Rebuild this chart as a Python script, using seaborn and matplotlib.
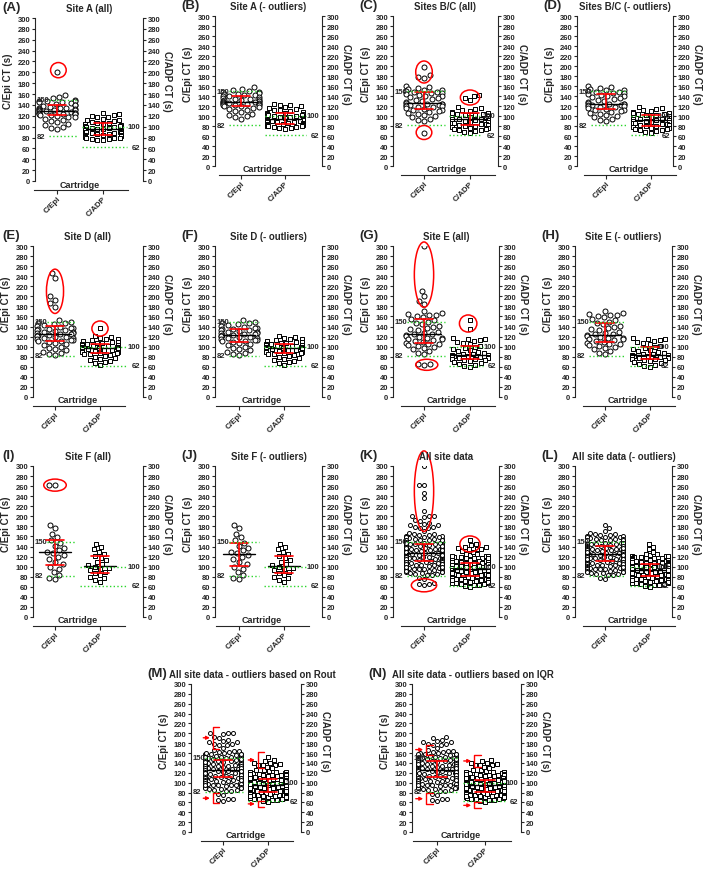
import warnings

import numpy as np
import pandas as pd
import matplotlib
matplotlib.use("Agg")
import matplotlib.pyplot as plt
from matplotlib.patches import Ellipse
import seaborn as sns

warnings.filterwarnings("ignore")

FIG_W, FIG_H = 709, 870
CARTRIDGES = ["C/Epi", "C/ADP"]
EPI_REF = [150, 82]
ADP_REF = [100, 62]
Y_TICKS = list(range(0, 301, 20))

# closure times (s)
site_a_epi = [200, 158, 155, 152, 150, 148, 148, 147, 145, 145, 143, 142, 140, 140, 138, 137,
              135, 135, 134, 133, 132, 131, 130, 130, 129, 128, 127, 126, 126, 125, 125, 124,
              123, 123, 122, 121, 120, 118, 117, 115, 113, 110, 108, 105, 103, 100, 98, 95]
site_a_adp = [125, 123, 122, 120, 118, 117, 115, 113, 112, 110, 108, 107, 106, 105, 104, 103,
              102, 101, 100, 99, 98, 97, 96, 95, 95, 94, 93, 92, 91, 90, 90, 89, 88, 88, 87,
              86, 85, 85, 84, 83, 82, 81, 80, 80, 79, 78, 77, 76, 75]
site_c_epi = [198, 182, 179, 177, 160, 158, 156, 155, 153, 152, 150, 149, 148, 147, 146, 145,
              143, 141, 140, 138, 136, 134, 132, 130, 128, 126, 125, 124, 124, 123, 122, 122,
              121, 120, 119, 118, 116, 115, 113, 112, 110, 108, 106, 104, 102, 100, 98, 95,
              92, 90, 67]
site_c_adp = [143, 140, 136, 132, 118, 116, 114, 112, 110, 108, 107, 106, 105, 104, 103, 102,
              100, 99, 98, 97, 96, 95, 95, 94, 93, 92, 91, 90, 89, 88, 87, 86, 85, 84, 83, 82,
              81, 80, 78, 77, 76, 75, 74, 73, 72, 70, 68, 66]
site_d_epi = [246, 236, 200, 193, 186, 178, 152, 150, 148, 147, 145, 143, 141, 140, 138, 137,
              136, 135, 134, 133, 132, 130, 129, 128, 127, 126, 125, 124, 123, 122, 121, 120,
              119, 118, 117, 116, 114, 113, 112, 111, 110, 108, 106, 104, 100, 98, 95, 93, 90,
              87, 85, 83]
site_d_adp = [138, 122, 120, 118, 116, 115, 113, 112, 110, 109, 108, 107, 106, 105, 104, 103,
              102, 101, 100, 100, 99, 99, 98, 98, 97, 97, 96, 96, 95, 95, 94, 93, 92, 91, 90,
              89, 88, 87, 86, 85, 84, 82, 80, 78, 76, 74, 72, 70, 67, 64]
site_e_epi = [300, 211, 200, 191, 184, 170, 167, 165, 163, 162, 160, 158, 155, 152, 150, 147,
              145, 142, 140, 138, 135, 133, 130, 128, 126, 125, 123, 122, 120, 118, 117, 116,
              115, 114, 112, 110, 108, 106, 105, 103, 102, 100, 98, 95, 92, 88, 85, 66, 65, 63]
site_e_adp = [152, 136, 118, 116, 115, 113, 112, 110, 108, 105, 102, 100, 98, 96, 94, 92, 90,
              88, 86, 85, 84, 83, 82, 82, 81, 80, 80, 79, 78, 78, 77, 76, 75, 74, 73, 72, 70,
              68, 66, 64, 62, 60]
site_f_epi = [262, 262, 182, 176, 165, 158, 152, 148, 142, 138, 133, 130, 127, 124, 120, 115,
              110, 105, 100, 96, 90, 84, 78, 75]
site_f_adp = [145, 140, 135, 130, 126, 122, 118, 114, 110, 106, 103, 100, 98, 96, 93, 90, 87,
              84, 80, 77, 73, 70]

# circled outliers per site
site_a_epi_out = [200]
site_a_adp_out = []
site_c_epi_out = [198, 182, 179, 177, 67]
site_c_adp_out = [143, 140, 136, 132]
site_d_epi_out = [246, 236, 200, 193, 186, 178]
site_d_adp_out = [138]
site_e_epi_out = [300, 211, 200, 191, 184, 66, 65, 63]
site_e_adp_out = [152, 136]
site_f_epi_out = [262, 262]
site_f_adp_out = []

# upper limits kept by the Rout / IQR outlier rules
ROUT_EPI_MAX = 205
IQR_EPI_MAX = 195
IQR_ADP_MAX = 148


def without(values, removed):
    rest = list(values)
    for v in removed:
        rest.remove(v)
    return rest


a_epi_c, a_adp_c = without(site_a_epi, site_a_epi_out), without(site_a_adp, site_a_adp_out)
c_epi_c, c_adp_c = without(site_c_epi, site_c_epi_out), without(site_c_adp, site_c_adp_out)
d_epi_c, d_adp_c = without(site_d_epi, site_d_epi_out), without(site_d_adp, site_d_adp_out)
e_epi_c, e_adp_c = without(site_e_epi, site_e_epi_out), without(site_e_adp, site_e_adp_out)
f_epi_c, f_adp_c = without(site_f_epi, site_f_epi_out), without(site_f_adp, site_f_adp_out)

all_epi = site_a_epi + site_c_epi + site_d_epi + site_e_epi + site_f_epi
all_adp = site_a_adp + site_c_adp + site_d_adp + site_e_adp + site_f_adp
clean_epi = a_epi_c + c_epi_c + d_epi_c + e_epi_c + f_epi_c
clean_adp = a_adp_c + c_adp_c + d_adp_c + e_adp_c + f_adp_c
rout_epi = [v for v in all_epi if v <= ROUT_EPI_MAX]
rout_adp = list(all_adp)
iqr_epi = [v for v in all_epi if v <= IQR_EPI_MAX]
iqr_adp = [v for v in all_adp if v <= IQR_ADP_MAX]

sns.set_style("ticks")
plt.rcParams["font.family"] = ["Liberation Sans", "DejaVu Sans"]
plt.rcParams["font.weight"] = "bold"
plt.rcParams["axes.labelweight"] = "bold"

COL = [(35, 57, 103, 143), (215, 241, 285, 322), (393, 424, 470, 498), (577, 606, 651, 673)]
COL_LOW = [(33, 55, 100, 143), (215, 239, 284, 322), (393, 424, 470, 499), (575, 605, 650, 672)]
ROWS = [(17, 167), (247, 398), (467, 618), (685, 833)]

# letter, title, epi, adp, geometry, rows, ellipses (cat, dx, y, w, h), brackets (cat, lo, hi)
panels = [
    ("(A)", "Site A (all)", site_a_epi, site_a_adp, COL[0], (19, 182),
     [(0, 0.03, 204, 0.34, 28)], []),
    ("(B)", "Site A (- outliers)", a_epi_c, a_adp_c, COL[1], ROWS[0], [], []),
    ("(C)", "Sites B/C (all)", site_c_epi, site_c_adp, COL[2], ROWS[0],
     [(0, 0, 188, 0.36, 44), (0, 0, 67, 0.34, 28), (1, 0, 137, 0.42, 30)], []),
    ("(D)", "Sites B/C (- outliers)", c_epi_c, c_adp_c, COL[3], ROWS[0], [], []),
    ("(E)", "Site D (all)", site_d_epi, site_d_adp, COL_LOW[0], ROWS[1],
     [(0, 0, 210, 0.38, 88), (1, 0, 136, 0.36, 30)], []),
    ("(F)", "Site D (- outliers)", d_epi_c, d_adp_c, COL_LOW[1], ROWS[1], [], []),
    ("(G)", "Site E (all)", site_e_epi, site_e_adp, COL_LOW[2], ROWS[1],
     [(0, 0, 243, 0.42, 130), (0, 0.06, 64, 0.48, 22), (1, -0.04, 146, 0.38, 34)], []),
    ("(H)", "Site E (- outliers)", e_epi_c, e_adp_c, COL_LOW[3], ROWS[1], [], []),
    ("(I)", "Site F (all)", site_f_epi, site_f_adp, COL_LOW[0], ROWS[2],
     [(0, 0, 262, 0.5, 24)], []),
    ("(J)", "Site F (- outliers)", f_epi_c, f_adp_c, COL_LOW[1], ROWS[2], [], []),
    ("(K)", "All site data", all_epi, all_adp, COL_LOW[2], ROWS[2],
     [(0, 0, 250, 0.42, 160), (0, 0, 63, 0.55, 26), (1, 0, 145, 0.44, 32)], []),
    ("(L)", "All site data (- outliers)", clean_epi, clean_adp, COL_LOW[3], ROWS[2], [], []),
    ("(M)", "All site data - outliers based on Rout", rout_epi, rout_adp, (191, 223, 268, 301),
     ROWS[3], [], [(0, 169, 213), (0, 58, 79), (1, 130, 162), (1, 51, 63)]),
    ("(N)", "All site data - outliers based on IQR", iqr_epi, iqr_adp, (412, 437, 485, 521),
     ROWS[3], [], [(0, 157, 177), (0, 56, 79), (1, 132, 156), (1, 48, 60)]),
]


def draw_panel(fig, letter, title, epi, adp, geo, rows, ellipses, brackets):
    L, c0, c1, R = geo
    top, bottom = rows
    w_px, h_px = R - L, bottom - top
    ax = fig.add_axes([L / FIG_W, 1 - bottom / FIG_H, w_px / FIG_W, h_px / FIG_H])
    u = c1 - c0
    xl, xr = (L - c0) / u, (R - c0) / u
    ypx = 300 / h_px
    dense = len(epi) > 100

    df = pd.DataFrame({"Cartridge": ["C/Epi"] * len(epi) + ["C/ADP"] * len(adp),
                       "CT": list(epi) + list(adp)})
    for cat, marker, size in [("C/Epi", "o", 3.6), ("C/ADP", "s", 3.2)]:
        sns.swarmplot(data=df[df["Cartridge"] == cat], x="Cartridge", y="CT", order=CARTRIDGES,
                      marker=marker, size=size * (0.8 if dense else 1.0), color="white",
                      edgecolor="black", linewidth=0.7, ax=ax, zorder=3)

    for i, vals in enumerate([epi, adp]):
        q1, med, q3 = np.percentile(vals, [25, 50, 75])
        ax.plot([i - 0.36, i + 0.36], [med, med], color="black", lw=1.0, zorder=4)
        ax.plot([i, i], [q1, q3], color="red", lw=1.2, zorder=5)
        for q in (q1, q3):
            ax.plot([i - 0.2, i + 0.2], [q, q], color="red", lw=1.2, zorder=5)

    px = 1.0 / u
    for v in EPI_REF:
        ax.plot([xl + 14 * px, 0.45], [v, v], color="#2bd62b", ls=":", lw=1.0, zorder=6)
        ax.text(xl + 2 * px, v, str(v), ha="left", va="center", fontsize=5.5)
    for v in ADP_REF:
        ax.plot([0.55, xr - 16 * px], [v, v], color="#2bd62b", ls=":", lw=1.0, zorder=6)
        ax.text(xr - 3 * px, v, str(v), ha="right", va="center", fontsize=5.5)

    for cat, dx, cy, ew, eh in ellipses:
        ax.add_patch(Ellipse((cat + dx, cy), ew, eh, fill=False, edgecolor="red", lw=1.1,
                             clip_on=False, zorder=7))
    for cat, lo, hi in brackets:
        xb = cat - 0.22
        ax.plot([xb + 0.13, xb, xb, xb + 0.13], [hi, hi, lo, lo], color="red", lw=1.0,
                zorder=7, clip_on=False)
        mid = (lo + hi) / 2
        ax.annotate("", xy=(xb - 0.01, mid), xytext=(xb - 0.28, mid),
                    arrowprops=dict(arrowstyle="-|>", color="red", lw=1.0, mutation_scale=5))

    ax.set_xlim(xl, xr)
    ax.set_ylim(0, 300)
    for s in ("top", "right"):
        ax.spines[s].set_visible(False)
    ax.spines["left"].set_linewidth(0.8)
    ax.spines["bottom"].set_linewidth(0.8)
    ax.spines["bottom"].set_position(("outward", 6.5))
    ax.spines["bottom"].set_bounds(-0.5, 1.55)
    ax.set_yticks(Y_TICKS)
    ax.set_xticks([0, 1])
    ax.set_xticklabels(CARTRIDGES)
    ax.tick_params(axis="y", length=2.5, width=0.8, pad=1, labelsize=5.5)
    ax.tick_params(axis="x", length=3, width=0.8, pad=0.5, labelsize=5.8, labelrotation=45)
    for lab in ax.get_xticklabels():
        lab.set_ha("right")
        lab.set_rotation_mode("anchor")
    ax.set_xlabel("")
    ax.set_ylabel("C/Epi CT (s)", fontsize=7)
    ax.yaxis.set_label_coords(-min(22, L - 9) / w_px, 0.62)
    ax.text(0.5, -3 * ypx, "Cartridge", ha="center", va="center", fontsize=6.5, clip_on=False)

    ax2 = ax.twinx()
    ax2.set_ylim(0, 300)
    ax2.set_yticks(Y_TICKS)
    ax2.tick_params(axis="y", length=2.5, width=0.8, pad=1, labelsize=5.5)
    for s in ("top", "left", "bottom"):
        ax2.spines[s].set_visible(False)
    ax2.spines["right"].set_linewidth(0.8)
    ax2.set_ylabel("C/ADP CT (s)", fontsize=7, rotation=270, va="center")
    ax2.yaxis.set_label_coords(1 + 24 / w_px, 0.62)

    low = top > 600
    ty = 1 - (top - 10) / FIG_H
    lx = L - (44 if low else 34)
    tx = (L + R) / 2 + (6 if low else 0)
    fig.text(max(lx, 2) / FIG_W, ty + 1 / FIG_H, letter, ha="left", va="center", fontsize=9.5)
    fig.text(tx / FIG_W, ty, title, ha="center", va="center", fontsize=6.9)


fig = plt.figure(figsize=(FIG_W / 100, FIG_H / 100), dpi=100)
for spec in panels:
    draw_panel(fig, *spec)
fig.savefig("out.png", dpi=100)
